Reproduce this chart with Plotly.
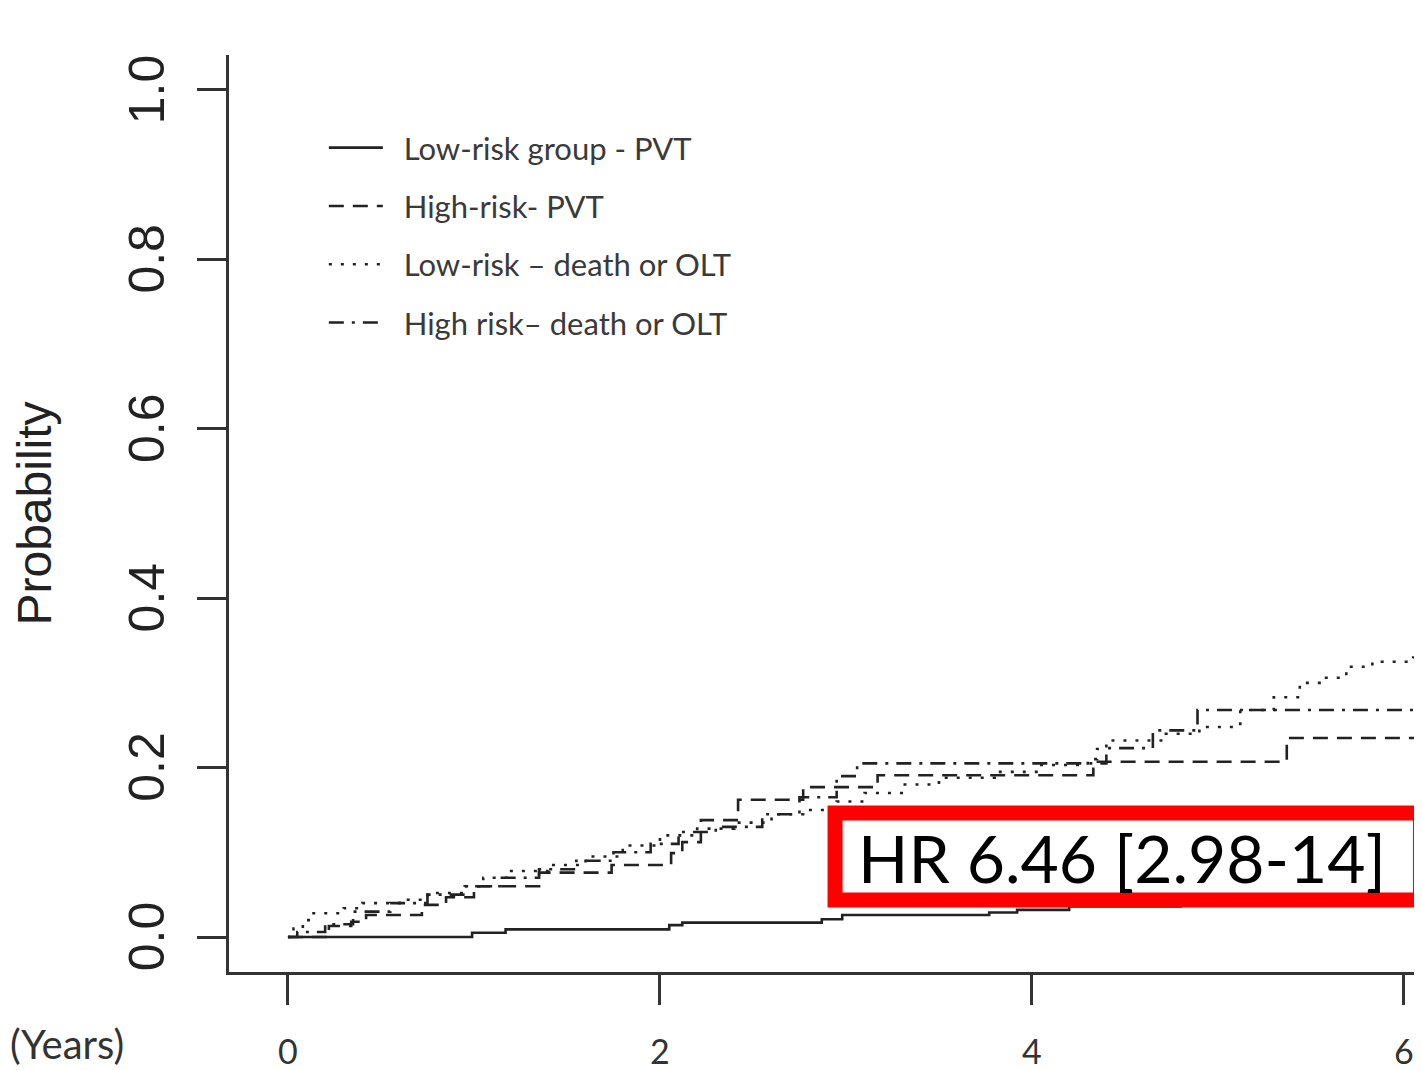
import plotly.graph_objects as go

# ---- data (years, cumulative probability) ----
low_pvt_t = [0, 0.99, 1.17, 2.05, 2.12, 2.87, 2.98, 3.77, 3.92, 4.2, 4.8, 5.5, 6.1]
low_pvt_p = [0, 0.005, 0.009, 0.014, 0.017, 0.021, 0.026, 0.029, 0.032, 0.036, 0.040, 0.044, 0.044]

high_pvt_t = [0, 0.22, 0.34, 0.42, 0.72, 0.85, 1.0, 1.35, 1.74, 2.06, 2.12, 2.22, 2.42, 2.77, 3.17, 4.33, 5.37, 6.1]
high_pvt_p = [0, 0.013, 0.018, 0.026, 0.038, 0.047, 0.060, 0.076, 0.085, 0.099, 0.112, 0.138, 0.162, 0.177, 0.191, 0.207, 0.235, 0.235]

low_death_t = [0, 0.03, 0.08, 0.13, 0.3, 0.4, 0.6, 0.75, 0.95, 1.05, 1.2, 1.4, 1.6, 1.8, 2.0, 2.2, 2.4,
               2.6, 2.77, 2.95, 3.1, 3.3, 3.5, 3.8, 4.05, 4.3, 4.35, 4.4, 4.72, 4.9, 5.12, 5.3, 5.44,
               5.56, 5.69, 5.83, 6.05, 6.09]
low_death_p = [0, 0.010, 0.020, 0.028, 0.034, 0.040, 0.044, 0.052, 0.060, 0.070, 0.078, 0.085, 0.095,
               0.108, 0.120, 0.128, 0.135, 0.145, 0.150, 0.160, 0.170, 0.180, 0.188, 0.195, 0.203,
               0.210, 0.222, 0.232, 0.240, 0.248, 0.268, 0.283, 0.300, 0.306, 0.319, 0.325, 0.330, 0.339]

high_death_t = [0, 0.05, 0.2, 0.35, 0.55, 0.75, 0.95, 1.15, 1.35, 1.55, 1.75, 1.95, 2.1, 2.3, 2.55,
                2.75, 2.95, 3.06, 4.4, 4.65, 4.89, 6.1]
high_death_p = [0, 0.006, 0.015, 0.030, 0.040, 0.050, 0.060, 0.070, 0.080, 0.090, 0.100, 0.110, 0.124,
                0.130, 0.145, 0.165, 0.190, 0.205, 0.223, 0.244, 0.268, 0.268]

series_names = ["Low-risk group - PVT", "High-risk- PVT", "Low-risk – death or OLT", "High risk– death or OLT"]
series_dash = ["solid", "15px,9px", "3px,9px", "15px,8px,3px,8px"]

x_tick_vals = [0, 2, 4, 6]
x_tick_text = ["0", "2", "4", "6"]
y_tick_vals = [0.0, 0.2, 0.4, 0.6, 0.8, 1.0]
y_tick_text = ["0.0", "0.2", "0.4", "0.6", "0.8", "1.0"]

hr_text = "HR 6.46 [2.98-14]"

LINE = "#222222"
NBSP = "\u00a0"

fig = go.Figure()
all_series = [(low_pvt_t, low_pvt_p), (high_pvt_t, high_pvt_p),
              (low_death_t, low_death_p), (high_death_t, high_death_p)]
for i, ((t, p), name, dash) in enumerate(zip(all_series, series_names, series_dash)):
    fig.add_trace(go.Scatter(
        x=t, y=p, mode="lines", name=NBSP * 2 + name, legendgroup=f"g{i}",
        line=dict(shape="hv", color=LINE, width=2.6, dash=dash),
    ))

# page body has an 8px margin, so the figure is 8px smaller on each side
fig.update_layout(
    width=1414, height=1062,
    margin=dict(l=221, r=0, t=47, b=98, pad=0),
    paper_bgcolor="white", plot_bgcolor="white",
    showlegend=True,
    legend=dict(
        x=0.0795, y=0.928, xanchor="left", yanchor="top",
        font=dict(family="Lato", size=31, color="#3a3a3a"),
        bgcolor="rgba(0,0,0,0)", borderwidth=0,
        tracegroupgap=15, itemwidth=54, traceorder="grouped",
    ),
    xaxis=dict(
        range=[-0.317, 6.097], showgrid=False, zeroline=False,
        showline=True, linecolor="#333333", linewidth=2.5,
        ticks="outside", ticklen=30, tickwidth=2.5, tickcolor="#333333",
        tickvals=x_tick_vals, ticktext=x_tick_text,
        tickfont=dict(family="Lato", size=34, color="#333333"),
        ticklabelstandoff=18,
    ),
    yaxis=dict(
        range=[-0.0413, 1.0413], showgrid=False, zeroline=False,
        showline=True, linecolor="#333333", linewidth=2.5,
        ticks="outside", ticklen=29, tickwidth=2.5, tickcolor="#333333",
        tickvals=y_tick_vals, ticktext=[s + NBSP for s in y_tick_text], tickangle=-90,
        tickfont=dict(family="Liberation Sans", size=50, color="#222222"),
        ticklabelstandoff=13,
        title=dict(text="Probability", standoff=57,
                   font=dict(family="Liberation Sans", size=48, color="#222222")),
    ),
)

# HR box
fig.add_shape(type="rect", xref="paper", yref="paper",
              x0=0.5080, x1=0.9987, y0=0.0785, y1=0.1734,
              line=dict(color="#ff0000", width=15), fillcolor="white", layer="above")
fig.add_annotation(xref="paper", yref="paper", x=0.7485, y=0.1245,
                   xanchor="center", yanchor="middle", showarrow=False,
                   text=hr_text, font=dict(family="Lato", size=66, color="black"))

# x-axis unit label
fig.add_annotation(xref="paper", yref="paper", x=-0.1852, y=-0.079,
                   xanchor="left", yanchor="middle", showarrow=False,
                   text="(Years)", font=dict(family="Lato", size=40, color="#333333"))

fig.write_html("out.html")
